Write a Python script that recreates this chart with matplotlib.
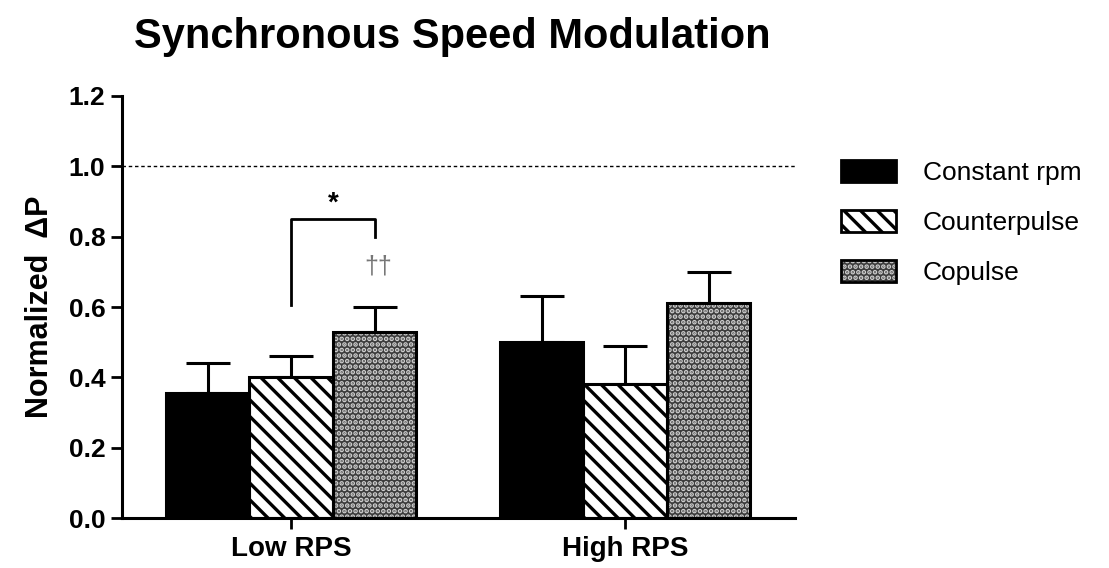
import numpy as np
import matplotlib.pyplot as plt
from matplotlib.patches import Patch
from matplotlib.legend_handler import HandlerTuple

plt.rcParams['font.family'] = ['Liberation Sans', 'DejaVu Sans']
plt.rcParams['hatch.linewidth'] = 2.4

groups = ["Low RPS", "High RPS"]
series = ["Constant rpm", "Counterpulse", "Copulse"]
means = {
    "Constant rpm": [0.355, 0.50],
    "Counterpulse": [0.40, 0.38],
    "Copulse": [0.53, 0.61],
}
upper = {
    "Constant rpm": [0.44, 0.63],
    "Counterpulse": [0.46, 0.49],
    "Copulse": [0.60, 0.70],
}
yticks = [0.0, 0.2, 0.4, 0.6, 0.8, 1.0, 1.2]

fig = plt.figure(figsize=(11.09, 5.68), dpi=100)
ax = fig.add_axes([0.110, 0.088, 0.607, 0.743])

x = np.arange(len(groups))
w = 0.25
styles = {
    "Constant rpm": dict(facecolor="black", hatch=None, hcolor="black"),
    "Counterpulse": dict(facecolor="white", hatch="\\\\", hcolor="black"),
    "Copulse": dict(facecolor="#3c3c3c", hatch="...", hcolor="#d0d0d0"),
}
handles = []
for i, s in enumerate(series):
    pos = x + (i - 1) * w
    st = styles[s]
    ax.bar(pos, means[s], w, facecolor=st["facecolor"], hatch=st["hatch"],
           edgecolor=st["hcolor"], linewidth=0, zorder=2)
    ax.bar(pos, means[s], w, fill=False, edgecolor="black", linewidth=2.2, zorder=3)
    err = np.array(upper[s]) - np.array(means[s])
    ax.errorbar(pos, means[s], yerr=[np.zeros_like(err), err], fmt="none",
                ecolor="black", elinewidth=2.2, capsize=16, capthick=2.2, zorder=1)
    p1 = Patch(facecolor=st["facecolor"], hatch=st["hatch"], edgecolor=st["hcolor"], linewidth=0)
    p2 = Patch(fill=False, edgecolor="black", linewidth=2)
    handles.append((p1, p2))

ax.axhline(1.0, color="black", linestyle=(0, (2.5, 2)), linewidth=1, zorder=1)

# significance bracket
xl = x[0]
xr = x[0] + w
ax.plot([xl, xl, xr, xr], [0.605, 0.85, 0.85, 0.80], color="black", linewidth=2, clip_on=False)
ax.text((xl + xr) / 2, 0.895, "*", ha="center", va="center", fontsize=20, fontweight="bold")
ax.text(xr + 0.01, 0.715, "\u2020\u2020", ha="center", va="center", fontsize=18, color="#777777")

ax.set_xlim(-0.506, 1.509)
ax.set_ylim(0, 1.2)
ax.set_yticks(yticks)
ax.set_yticklabels([f"{t:.1f}" for t in yticks], fontsize=19, fontweight="bold")
ax.set_xticks(x)
ax.set_xticklabels(groups, fontsize=20, fontweight="bold")
ax.tick_params(axis="both", direction="out", length=8, width=2, colors="black")
ax.tick_params(axis="x", pad=5)
ax.tick_params(axis="y", pad=4)
ax.spines["top"].set_visible(False)
ax.spines["right"].set_visible(False)
ax.spines["left"].set_linewidth(2.2)
ax.spines["bottom"].set_linewidth(2.2)
ax.set_ylabel("Normalized  \u0394P", fontsize=22, fontweight="bold", labelpad=10)

fig.text(0.408, 0.935, "Synchronous Speed Modulation", ha="center", va="center",
         fontsize=30, fontweight="bold")

fig.legend(handles, series, loc="upper left", bbox_to_anchor=(0.737, 0.76),
           frameon=False, fontsize=19, handler_map={tuple: HandlerTuple(ndivide=1)},
           handlelength=2.1, handleheight=0.9, labelspacing=0.95, handletextpad=1.0)

fig.savefig("out.png", dpi=100)
